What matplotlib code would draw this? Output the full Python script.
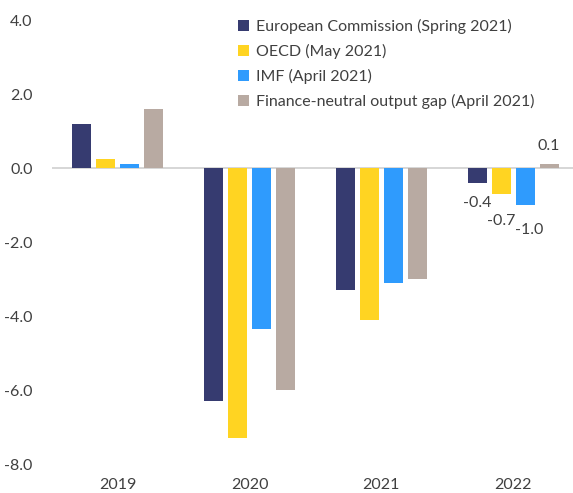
import numpy as np
import matplotlib
matplotlib.use('Agg')
import matplotlib.pyplot as plt

years = ['2019', '2020', '2021', '2022']
series = ['European Commission (Spring 2021)', 'OECD (May 2021)',
          'IMF (April 2021)', 'Finance-neutral output gap (April 2021)']
ec = [1.2, -6.3, -3.3, -0.4]
oecd = [0.25, -7.3, -4.1, -0.7]
imf = [0.1, -4.35, -3.1, -1.0]
fnog = [1.6, -6.0, -3.0, 0.1]
colors = ['#363b70', '#ffd422', '#2f9bfd', '#b8aaa2']

plt.rcParams['font.family'] = ['Lato', 'DejaVu Sans']

fig = plt.figure(figsize=(5.73, 4.93), dpi=100)
ax = fig.add_axes([52 / 573, 29 / 493, 521 / 573, 444 / 493])

x = np.arange(len(years))
width = 0.144
offsets = [-0.273, -0.091, 0.091, 0.273]
bars = []
for vals, off, col, name in zip([ec, oecd, imf, fnog], offsets, colors, series):
    b = ax.bar(x + off, vals, width, color=col, label=name, zorder=2)
    bars.append(b)

# data labels for 2022 only
lab_offsets = [(0, -20), (0, -27), (4, -25), (0, 18)]
for b, vals, (dx, dy) in zip(bars, [ec, oecd, imf, fnog], lab_offsets):
    r = b[3]
    v = vals[3]
    ax.annotate('%.1f' % v, (r.get_x() + r.get_width() / 2, v),
                xytext=(dx, dy), textcoords='offset pixels',
                ha='center', va='center', fontsize=11.5, color='#404040')

ax.axhline(0, color='#d0d0d0', lw=1.2, zorder=1)
ax.set_xlim(-0.5, 3.455)
ax.set_ylim(-8, 4)
ax.set_yticks(np.arange(-8, 4.1, 2))
ax.set_yticklabels(['%.1f' % t for t in np.arange(-8, 4.1, 2)])
ax.set_xticks(x)
ax.set_xticklabels(years)
for s in ax.spines.values():
    s.set_visible(False)
ax.tick_params(axis='both', length=0, labelsize=11.5, colors='#404040')
ax.tick_params(axis='y', pad=14)
ax.tick_params(axis='x', pad=10)

leg = ax.legend(loc='upper left', bbox_to_anchor=(0.33, 1.035), frameon=False,
                fontsize=11.5, handlelength=0.7, handleheight=0.7,
                handletextpad=0.4, labelspacing=0.62, labelcolor='#404040')

fig.savefig('out.png', dpi=100)
